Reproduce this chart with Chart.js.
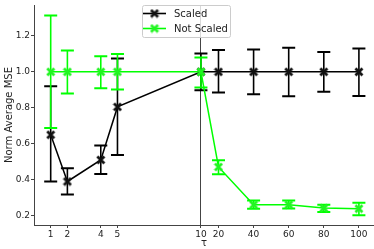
<!DOCTYPE html>
<html>
<head>
<meta charset="utf-8">
<script src="https://cdn.jsdelivr.net/npm/chart.js@4"></script>
<style>
  html, body { margin: 0; padding: 0; background: #fff; }
  #wrap { width: 374px; height: 249px; }
</style>
</head>
<body>
<div id="wrap"><canvas id="grafica"></canvas></div>
<script>
// datos
const tau = [1, 2, 4, 5, 10, 20, 40, 60, 80, 100];
const scaledMean = [0.65, 0.39, 0.51, 0.805, 1.0, 1.0, 1.0, 1.0, 1.0, 1.0];
const scaledLow  = [0.39, 0.317, 0.432, 0.538, 0.898, 0.885, 0.876, 0.865, 0.889, 0.866];
const scaledHigh = [0.92, 0.464, 0.59, 1.075, 1.102, 1.121, 1.125, 1.134, 1.111, 1.13];
const notScaledMean = [1.0, 1.0, 1.0, 1.0, 1.0, 0.471, 0.261, 0.261, 0.242, 0.239];
const notScaledLow  = [0.688, 0.88, 0.909, 0.902, 0.913, 0.43, 0.239, 0.24, 0.22, 0.202];
const notScaledHigh = [1.314, 1.119, 1.087, 1.099, 1.08, 0.508, 0.285, 0.285, 0.261, 0.272];
const xTicks = [1, 2, 4, 5, 10, 20, 40, 60, 80, 100];
const yTicks = [0.2, 0.4, 0.6, 0.8, 1.0, 1.2];

const SPLIT_AT = 10;      // valor donde se parte el eje
const SPLIT_FRAC = 0.491; // fraccion del ancho para el tramo 0-10

// eje x partido: 0..10 a la izquierda, 10..max a la derecha
class SplitScale extends Chart.LinearScale {
    getPixelForValue(value) {
        if (value === null || value === undefined) return NaN;
        const mid = this.left + this.width * SPLIT_FRAC;
        if (value <= SPLIT_AT) {
            return this.left + (value - this.min) / (SPLIT_AT - this.min) * (mid - this.left);
        }
        return mid + (value - SPLIT_AT) / (this.max - SPLIT_AT) * (this.right - mid);
    }
    getValueForPixel(pixel) {
        const mid = this.left + this.width * SPLIT_FRAC;
        if (pixel <= mid) {
            return this.min + (pixel - this.left) / (mid - this.left) * (SPLIT_AT - this.min);
        }
        return SPLIT_AT + (pixel - mid) / (this.right - mid) * (this.max - SPLIT_AT);
    }
    afterFit() {
        super.afterFit();
        this.height = 24;
        this.paddingLeft = 0;
        this.paddingRight = 0;
    }
}
SplitScale.id = 'split';
SplitScale.defaults = {};
Chart.register(SplitScale);

// eje y con ancho fijo
class FixedYScale extends Chart.LinearScale {
    afterFit() {
        super.afterFit();
        this.width = 34;
        this.paddingTop = 0;
        this.paddingBottom = 0;
    }
}
FixedYScale.id = 'fixedy';
FixedYScale.defaults = {};
Chart.register(FixedYScale);

// marcador X relleno
function marcadorX(color) {
    const c = document.createElement('canvas');
    c.width = 10; c.height = 10;
    const g = c.getContext('2d');
    g.strokeStyle = color;
    g.lineWidth = 2.8;
    g.beginPath();
    g.moveTo(1.5, 1.5); g.lineTo(8.5, 8.5);
    g.moveTo(8.5, 1.5); g.lineTo(1.5, 8.5);
    g.stroke();
    return c;
}

const errorBars = {
    id: 'errorBars',
    beforeDatasetDraw(chart, args) {
        const ds = chart.data.datasets[args.index];
        if (!ds.errLow) return;
        const ctx = chart.ctx;
        const xs = chart.scales.x, ys = chart.scales.y;
        ctx.save();
        ctx.strokeStyle = ds.borderColor;
        ds.data.forEach((p, i) => {
            const x = xs.getPixelForValue(p.x);
            const yl = ys.getPixelForValue(ds.errLow[i]);
            const yh = ys.getPixelForValue(ds.errHigh[i]);
            ctx.lineWidth = 1.6;
            ctx.beginPath();
            ctx.moveTo(x, yl); ctx.lineTo(x, yh);
            ctx.stroke();
            ctx.lineWidth = 2;
            ctx.beginPath();
            ctx.moveTo(x - 6.5, yl); ctx.lineTo(x + 6.5, yl);
            ctx.moveTo(x - 6.5, yh); ctx.lineTo(x + 6.5, yh);
            ctx.stroke();
        });
        ctx.restore();
    }
};

const leyenda = {
    id: 'leyenda',
    afterDraw(chart) {
        const ctx = chart.ctx;
        ctx.save();
        ctx.fillStyle = 'rgba(255,255,255,0.8)';
        ctx.strokeStyle = '#cccccc';
        ctx.lineWidth = 1;
        ctx.beginPath();
        ctx.roundRect(142.5, 5.5, 88, 32, 2);
        ctx.fill();
        ctx.stroke();
        chart.data.datasets.forEach((ds, i) => {
            const y = 13.5 + i * 15;
            ctx.strokeStyle = ds.borderColor;
            ctx.lineWidth = 1.6;
            ctx.beginPath();
            ctx.moveTo(143, y); ctx.lineTo(166, y);
            ctx.stroke();
            const img = ds.pointStyle;
            ctx.drawImage(img, 154.5 - img.width / 2, y - img.height / 2);
            ctx.fillStyle = '#222';
            ctx.font = '10px "DejaVu Sans"';
            ctx.textBaseline = 'middle';
            ctx.fillText(ds.label, 174, y + 0.5);
        });
        ctx.restore();
    }
};

Chart.defaults.font.family = '"DejaVu Sans", sans-serif';
Chart.defaults.color = '#222';

new Chart(document.getElementById('grafica'), {
    type: 'line',
    data: {
        datasets: [
            {
                label: 'Scaled',
                data: tau.map((t, i) => ({ x: t, y: scaledMean[i] })),
                errLow: scaledLow,
                errHigh: scaledHigh,
                borderColor: '#000000',
                backgroundColor: '#000000',
                borderWidth: 1.5,
                pointStyle: marcadorX('#111111'),
                pointRadius: 5,
                tension: 0,
                order: 1
            },
            {
                label: 'Not Scaled',
                data: tau.map((t, i) => ({ x: t, y: notScaledMean[i] })),
                errLow: notScaledLow,
                errHigh: notScaledHigh,
                borderColor: '#00ff00',
                backgroundColor: '#00ff00',
                borderWidth: 1.5,
                pointStyle: marcadorX('#22f522'),
                pointRadius: 5,
                tension: 0,
                order: 0
            }
        ]
    },
    options: {
        responsive: true,
        maintainAspectRatio: false,
        animation: false,
        layout: { autoPadding: false, padding: { top: 5, left: 0, right: 0, bottom: 0 } },
        plugins: { legend: { display: false }, tooltip: { enabled: false } },
        scales: {
            x: {
                type: 'split',
                min: 0,
                max: 108.6,
                afterBuildTicks: s => { s.ticks = xTicks.map(v => ({ value: v })); },
                ticks: {
                    autoSkip: false,
                    maxRotation: 0,
                    padding: 1,
                    font: { size: 9 },
                    callback: v => String(v)
                },
                grid: {
                    color: c => (c.tick && c.tick.value === SPLIT_AT) ? '#444' : 'rgba(0,0,0,0)',
                    lineWidth: 1,
                    tickLength: 3,
                    tickColor: '#444'
                },
                border: { display: true, color: '#444', width: 1 },
                title: { display: true, text: 'τ', font: { size: 10 }, padding: { top: 0, bottom: 0 } }
            },
            y: {
                type: 'fixedy',
                min: 0.148,
                max: 1.372,
                afterBuildTicks: s => { s.ticks = yTicks.map(v => ({ value: v })); },
                ticks: {
                    padding: 1,
                    font: { size: 9 },
                    callback: v => v.toFixed(1)
                },
                grid: {
                    drawOnChartArea: false,
                    tickLength: 3,
                    tickColor: '#444'
                },
                border: { display: true, color: '#444', width: 1 },
                title: { display: true, text: 'Norm Average MSE', font: { size: 10 }, padding: { top: 3, bottom: 0 } }
            }
        }
    },
    plugins: [errorBars, leyenda]
});
</script>
</body>
</html>
